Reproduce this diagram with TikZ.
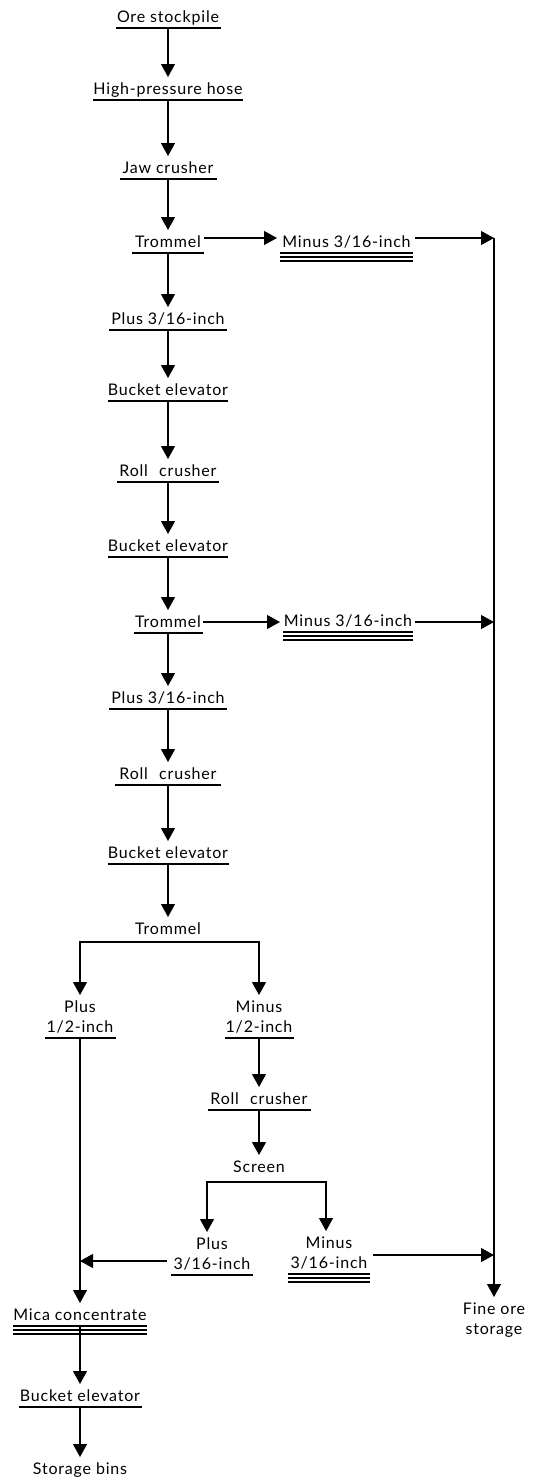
\documentclass[tikz,border=0pt]{standalone}
\usepackage{fontspec}
\setmainfont{Lato}[LetterSpace=5]
\usetikzlibrary{arrows.meta}
\newcommand{\twol}[2]{\begin{tabular}[b]{@{}c@{}}#1\\#2\end{tabular}}
\tikzset{
  lbl/.style={inner sep=0pt, outer sep=0pt, font=\fontsize{16}{20}\selectfont, text height=17pt, text depth=6pt},
  twoline/.style={text height=37pt},
  ulline/.style={draw, line width=1.6pt},
  ulthin/.style={draw, line width=1.4pt},
  ul/.style={lbl, anchor=south, append after command={(\tikzlastnode.south west) edge[ulline] (\tikzlastnode.south east)}},
  ulthree/.style={lbl, anchor=south, append after command={(\tikzlastnode.south west) edge[ulthin] (\tikzlastnode.south east) ([yshift=-4pt]\tikzlastnode.south west) edge[ulthin] ([yshift=-4pt]\tikzlastnode.south east) ([yshift=-8pt]\tikzlastnode.south west) edge[ulthin] ([yshift=-8pt]\tikzlastnode.south east)}},
  plaintext/.style={lbl, anchor=north},
  arr/.style={draw, line width=1.2pt, -{Triangle[length=13pt,width=14pt]}},
}
\begin{document}
\begin{tikzpicture}[x=1pt,y=-1pt]
\fill[white] (0,0) rectangle (534,1478);
\useasboundingbox (0,0) rectangle (534,1478);
% main column
\node[ul, minimum width=105pt] (n1) at (168,28) {Ore stockpile};
\node[ul, minimum width=150pt] (n2) at (168,100) {High-pressure hose};
\node[ul, minimum width=97pt] (n3) at (168,179) {Jaw crusher};
\node[ul, minimum width=72pt] (n4) at (168,253) {Trommel};
\node[ul, minimum width=118pt] (n5) at (168,330) {Plus 3/16-inch};
\node[ul, minimum width=119pt] (n6) at (168,401) {Bucket elevator};
\node[ul, minimum width=102pt] (n7) at (168,482) {Roll\hspace{0.7em}crusher};
\node[ul, minimum width=120pt] (n8) at (168,557) {Bucket elevator};
\node[ul, minimum width=69pt] (n9) at (168,633) {Trommel};
\node[ul, minimum width=118pt] (n10) at (168,709) {Plus 3/16-inch};
\node[ul, minimum width=106pt] (n11) at (168,785) {Roll\hspace{0.7em}crusher};
\node[ul, minimum width=121pt] (n12) at (168,864) {Bucket elevator};
\node[plaintext] (n13) at (168,917) {Trommel};
\node[ul, twoline, minimum width=71pt] (n14) at (80,1038) {\twol{Plus}{1/2-inch}};
\node[ul, twoline, minimum width=69pt] (n15) at (259,1038) {\twol{Minus}{1/2-inch}};
\node[ul, minimum width=103pt] (n16) at (259,1110) {Roll\hspace{0.7em}crusher};
\node[plaintext] (n17) at (259,1155) {Screen};
\node[ul, twoline, minimum width=82pt] (n18) at (212,1275) {\twol{Plus}{3/16-inch}};
\node[ulthree, twoline, minimum width=82pt] (n19) at (329,1274) {\twol{Minus}{3/16-inch}};
\node[ulthree, minimum width=134pt] (n20) at (80,1326) {Mica concentrate};
\node[ul, minimum width=123pt] (n21) at (80,1407) {Bucket elevator};
\node[plaintext] (n22) at (80,1457) {Storage bins};
\node[plaintext, twoline] (n23) at (494,1297) {\twol{Fine ore}{storage}};
% side products
\node[ulthree, minimum width=133pt] (m1) at (346.5,253) {Minus 3/16-inch};
\node[ulthree, minimum width=130pt] (m2) at (348,632) {Minus 3/16-inch};
% junctions
\coordinate (v1) at (494,238);
\coordinate (j3) at (494,622);
\coordinate (j2) at (494,1255);
\coordinate (j1) at (80,1261);
% connectors
\draw[arr] (n1.south) -- (n2.north);
\draw[arr] (n2.south) -- (n3.north);
\draw[arr] (n3.south) -- (n4.north);
\draw[arr] (n4.south) -- (n5.north);
\draw[arr] (n5.south) -- (n6.north);
\draw[arr] (n6.south) -- (n7.north);
\draw[arr] (n7.south) -- (n8.north);
\draw[arr] (n8.south) -- (n9.north);
\draw[arr] (n9.south) -- (n10.north);
\draw[arr] (n10.south) -- (n11.north);
\draw[arr] (n11.south) -- (n12.north);
\draw[arr] (n12.south) -- (n13.north);
\draw[arr] ([yshift=15pt]n4.south east) -- ([xshift=-3pt,yshift=15pt]m1.south west);
\draw[arr] ([xshift=2pt,yshift=15pt]m1.south east) -- (v1);
\draw[arr] ([yshift=11pt]n9.south east) -- ([xshift=-3pt,yshift=10pt]m2.south west);
\draw[arr] ([xshift=2pt,yshift=10pt]m2.south east) -- (j3);
\draw[arr] (v1) -- (n23.north);
\draw[arr] ([yshift=-2pt]n13.south) -| (n14.north);
\draw[arr] ([yshift=-2pt]n13.south) -| (n15.north);
\draw[arr] (n14.south) -- (n20.north);
\draw[arr] (n15.south) -- (n16.north);
\draw[arr] (n16.south) -- (n17.north);
\draw[arr] ([yshift=-4pt]n17.south) -| ([xshift=-5pt]n18.north);
\draw[arr] ([yshift=-4pt]n17.south) -| ([xshift=-3pt]n19.north);
\draw[arr] ([xshift=-4pt,yshift=14pt]n18.south west) -- (j1);
\draw[arr] ([xshift=3pt,yshift=19pt]n19.south east) -- (j2);
\draw[arr] (n20.south) -- (n21.north);
\draw[arr] (n21.south) -- (n22.north);
\end{tikzpicture}
\end{document}
